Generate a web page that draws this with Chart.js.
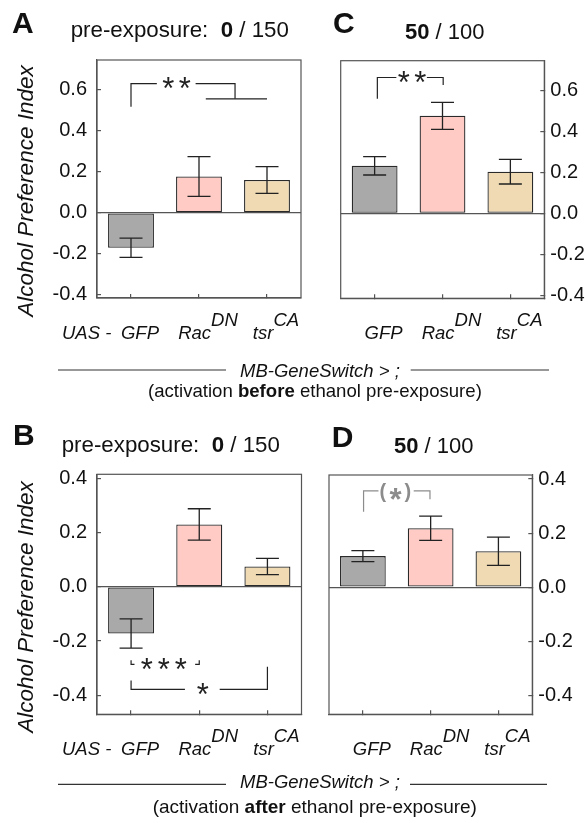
<!DOCTYPE html>
<html><head><meta charset="utf-8">
<script src="https://cdn.jsdelivr.net/npm/chart.js@4.4.1/dist/chart.umd.min.js"></script>
<style>
body{margin:0;background:#fff;}
#wrap{position:relative;width:588px;height:823px;overflow:hidden;background:#fff;}
canvas{position:absolute;}
svg{position:absolute;left:0;top:0;}
svg text{font-family:"Liberation Sans",Arial,sans-serif;fill:#111;}
</style></head><body>
<div id="wrap">
<canvas id="cA"></canvas>
<canvas id="cB"></canvas>
<canvas id="cC"></canvas>
<canvas id="cD"></canvas>
<svg id="ov" width="588" height="823" xmlns="http://www.w3.org/2000/svg">
  <text x="12" y="33" font-size="30" font-weight="bold">A</text>
  <text x="70.7" y="37.3" font-size="22.3" style="white-space:pre">pre-exposure:  <tspan font-weight="bold">0</tspan> / 150</text>
  <text x="333" y="33" font-size="30" font-weight="bold">C</text>
  <text x="405" y="39" font-size="22" style="white-space:pre"><tspan font-weight="bold">50</tspan> / 100</text>
  <text x="13" y="445" font-size="30" font-weight="bold">B</text>
  <text x="61.7" y="451.7" font-size="22.3" style="white-space:pre">pre-exposure:  <tspan font-weight="bold">0</tspan> / 150</text>
  <text x="331.7" y="446.7" font-size="30" font-weight="bold">D</text>
  <text x="394" y="452.7" font-size="22" style="white-space:pre"><tspan font-weight="bold">50</tspan> / 100</text>

  <text transform="translate(33,191) rotate(-90)" text-anchor="middle" font-style="italic" font-size="22.5">Alcohol Preference Index</text>
  <text transform="translate(33,607) rotate(-90)" text-anchor="middle" font-style="italic" font-size="22.5">Alcohol Preference Index</text>

  <text x="62" y="338.5" font-style="italic" font-size="18.5" style="white-space:pre">UAS -</text>
  <text x="62" y="754.5" font-style="italic" font-size="18.5" style="white-space:pre">UAS -</text>

  <line x1="58" y1="370" x2="226" y2="370" stroke="#333" stroke-width="1.2"/>
  <line x1="410.7" y1="370" x2="549" y2="370" stroke="#333" stroke-width="1.2"/>
  <text x="240" y="377" font-style="italic" font-size="18.5">MB-GeneSwitch &gt; ;</text>
  <text x="148" y="396.5" font-size="18.6" style="white-space:pre">(activation <tspan font-weight="bold">before</tspan> ethanol pre-exposure)</text>

  <line x1="58" y1="784.3" x2="226" y2="784.3" stroke="#333" stroke-width="1.2"/>
  <line x1="410" y1="784.3" x2="547" y2="784.3" stroke="#333" stroke-width="1.2"/>
  <text x="240" y="787.5" font-style="italic" font-size="18.5">MB-GeneSwitch &gt; ;</text>
  <text x="152.7" y="813" font-size="19" style="white-space:pre">(activation <tspan font-weight="bold">after</tspan> ethanol pre-exposure)</text>
  <g id="xlabels"></g>
</svg>
</div>
<script>
// ---- data ----
const categories = ['GFP', 'Rac', 'tsr'];
const superscripts = ['', 'DN', 'CA'];

const meanA = [-0.17, 0.177, 0.16];
const semA  = [0.047, 0.097, 0.065];
const meanC = [0.232, 0.476, 0.203];
const semC  = [0.045, 0.066, 0.06];
const meanB = [-0.172, 0.23, 0.075];
const semB  = [0.054, 0.058, 0.03];
const meanD = [0.115, 0.218, 0.133];
const semD  = [0.02, 0.045, 0.052];

const ticksTop = [-0.4, -0.2, 0, 0.2, 0.4, 0.6];
const ticksBottom = [-0.4, -0.2, 0, 0.2, 0.4];

const sigTextA = ['**'];
const sigTextB = ['***', '*'];
const sigTextC = ['**'];
const sigTextD = ['(*)'];

// ---- styling / annotation geometry (data units) ----
const barColors = ['#a9a9a9', '#ffcbc4', '#efdab3'];
const FONT = '"Liberation Sans", Arial, sans-serif';

const sigA = { color: '#222', lines: [
    [[0, 0.517], [0, 0.63], [0.38, 0.63]],
    [[0.95, 0.63], [1.53, 0.63], [1.53, 0.556]],
    [[1.1, 0.556], [2.0, 0.556]]
  ], labels: [{ at: [0.67, 0.636], text: sigTextA[0], spacing: 16.5 }] };
const sigC = { color: '#222', lines: [
    [[0.04, 0.559], [0.04, 0.663], [0.32, 0.663]],
    [[0.77, 0.663], [1.01, 0.663], [1.01, 0.626]]
  ], labels: [{ at: [0.55, 0.672], text: sigTextC[0], spacing: 16.5 }] };
const sigB = { color: '#222', lines: [
    [[0, -0.271], [0, -0.286], [0.05, -0.286]],
    [[0.94, -0.286], [1.0, -0.286], [1.0, -0.271]],
    [[0, -0.345], [0, -0.378], [0.79, -0.378]],
    [[1.3, -0.378], [2.0, -0.378], [2.0, -0.295]]
  ], labels: [{ at: [0.48, -0.28], text: sigTextB[0], spacing: 17 },
              { at: [1.05, -0.372], text: sigTextB[1], spacing: 17 }] };
const sigD = { color: '#8c8c8c', bold: true, lines: [
    [[0.01, 0.279], [0.01, 0.356], [0.23, 0.356]],
    [[0.75, 0.356], [0.99, 0.356], [0.99, 0.325]]
  ], labels: [{ at: [0.48, 0.35], text: sigTextD[0], spacing: 12.5 }] };

function drawChar(ctx, ch, x, cy, bold) {
  ctx.textAlign = 'center';
  ctx.textBaseline = 'alphabetic';
  if (ch === '*') {
    const s = 31;
    ctx.font = (bold ? 'bold ' : '') + s + 'px ' + FONT;
    ctx.fillText(ch, x, cy + 0.55 * s);
  } else {
    const s = 20;
    ctx.font = (bold ? 'bold ' : '') + s + 'px ' + FONT;
    ctx.fillText(ch, x, cy + 0.27 * s);
  }
}

function makePanel(id, box, area, yPos, yw, means, sems, yMin, yMax, yTicks, sig, labelBase) {
  const cv = document.getElementById(id);
  cv.width = box.w; cv.height = box.h;
  cv.style.left = box.left + 'px'; cv.style.top = box.top + 'px';
  cv.style.width = box.w + 'px'; cv.style.height = box.h + 'px';
  const xh = 6;
  let padLeft, padRight;
  if (yPos === 'left') {
    padLeft = (area.l - box.left) - yw;
    padRight = (box.left + box.w) - area.r;
  } else {
    padLeft = area.l - box.left;
    padRight = (box.left + box.w) - area.r - yw;
  }
  const padTop = area.t - box.top;
  const padBottom = (box.top + box.h) - area.b - xh;

  const annot = {
    id: 'annot_' + id,
    afterDatasetsDraw(chart) {
      const ctx = chart.ctx, xs = chart.scales.x, ys = chart.scales.y;
      ctx.save();
      ctx.strokeStyle = '#222'; ctx.lineWidth = 1.3;
      means.forEach((m, i) => {
        const x = xs.getPixelForValue(i);
        const y1 = ys.getPixelForValue(m + sems[i]);
        const y2 = ys.getPixelForValue(m - sems[i]);
        ctx.beginPath();
        ctx.moveTo(x, y1); ctx.lineTo(x, y2);
        ctx.moveTo(x - 11.5, y1); ctx.lineTo(x + 11.5, y1);
        ctx.moveTo(x - 11.5, y2); ctx.lineTo(x + 11.5, y2);
        ctx.stroke();
      });
      ctx.strokeStyle = sig.color; ctx.fillStyle = sig.color;
      ctx.lineWidth = 1.2;
      sig.lines.forEach(pts => {
        ctx.beginPath();
        pts.forEach((p, k) => {
          const px = xs.getPixelForValue(p[0]), py = ys.getPixelForValue(p[1]);
          if (k === 0) ctx.moveTo(px, py); else ctx.lineTo(px, py);
        });
        ctx.stroke();
      });
      sig.labels.forEach(lb => {
        const cx = xs.getPixelForValue(lb.at[0]), cy = ys.getPixelForValue(lb.at[1]);
        const chars = lb.text.split('');
        chars.forEach((ch, k) => {
          drawChar(ctx, ch, cx + (k - (chars.length - 1) / 2) * lb.spacing, cy, sig.bold);
        });
      });
      ctx.restore();
    },
    afterDraw(chart) {
      const a = chart.chartArea, ctx = chart.ctx;
      ctx.save();
      ctx.strokeStyle = '#555'; ctx.lineWidth = 1.2;
      ctx.strokeRect(a.left, a.top, a.right - a.left, a.bottom - a.top);
      ctx.restore();
    }
  };

  const chart = new Chart(cv, {
    type: 'bar',
    data: {
      labels: categories,
      datasets: [{
        data: means,
        backgroundColor: barColors,
        borderColor: '#2a2a2a',
        borderWidth: 1.3,
        borderSkipped: false,
        barPercentage: 0.675,
        categoryPercentage: 1
      }]
    },
    options: {
      responsive: false,
      devicePixelRatio: 1,
      animation: false,
      layout: { padding: { left: padLeft, right: padRight, top: padTop, bottom: padBottom } },
      plugins: { legend: { display: false }, tooltip: { enabled: false } },
      scales: {
        x: {
          type: 'category',
          offset: true,
          afterFit: s => { s.height = xh; },
          ticks: { display: false },
          grid: { offset: false, drawOnChartArea: false, tickLength: -4, tickColor: '#555', lineWidth: 1.2 },
          border: { display: true, color: '#555', width: 1.2 }
        },
        y: {
          type: 'linear',
          position: yPos,
          min: yMin, max: yMax,
          bounds: 'data',
          afterBuildTicks: s => { s.ticks = yTicks.map(v => ({ value: v })); },
          afterFit: s => { s.width = yw; },
          ticks: {
            font: { family: FONT, size: 20 },
            color: '#111',
            padding: yPos === 'left' ? 14 : 10,
            callback: v => Number(v).toFixed(1)
          },
          grid: {
            drawOnChartArea: true,
            color: c => (c.tick && Math.abs(c.tick.value) < 1e-9) ? '#555' : 'rgba(0,0,0,0)',
            lineWidth: 1.2,
            tickLength: -4,
            tickColor: '#555'
          },
          border: { display: true, color: '#555', width: 1.2 }
        }
      }
    },
    plugins: [annot]
  });

  // category labels with superscripts (SVG real text)
  const g = document.getElementById('xlabels');
  const NS = 'http://www.w3.org/2000/svg';
  categories.forEach((c, i) => {
    const x = box.left + chart.scales.x.getPixelForValue(i) + 9;
    const t = document.createElementNS(NS, 'text');
    t.setAttribute('x', x);
    t.setAttribute('y', labelBase);
    t.setAttribute('text-anchor', 'middle');
    t.setAttribute('font-style', 'italic');
    t.setAttribute('font-size', '18.5');
    t.appendChild(document.createTextNode(c));
    if (superscripts[i]) {
      const sp = document.createElementNS(NS, 'tspan');
      sp.setAttribute('dy', '-13');
      sp.textContent = superscripts[i];
      t.appendChild(sp);
    }
    g.appendChild(t);
  });
  return chart;
}

makePanel('cA', { left: 0, top: 0, w: 320, h: 345 }, { l: 97, t: 60, r: 301, b: 298 },
  'left', 50, meanA, semA, -0.415, 0.745, ticksTop, sigA, 339);
makePanel('cC', { left: 290, top: 0, w: 298, h: 345 }, { l: 340.7, t: 60.7, r: 544.3, b: 298.3 },
  'right', 40, meanC, semC, -0.415, 0.745, ticksTop, sigC, 339);
makePanel('cB', { left: 0, top: 414, w: 320, h: 345 }, { l: 97, t: 474.3, r: 301.5, b: 714.3 },
  'left', 50, meanB, semB, -0.47, 0.415, ticksBottom, sigB, 755);
makePanel('cD', { left: 290, top: 414, w: 298, h: 345 }, { l: 329, t: 475, r: 532.3, b: 714.3 },
  'right', 40, meanD, semD, -0.47, 0.415, ticksBottom, sigD, 755);
</script>
</body></html>
